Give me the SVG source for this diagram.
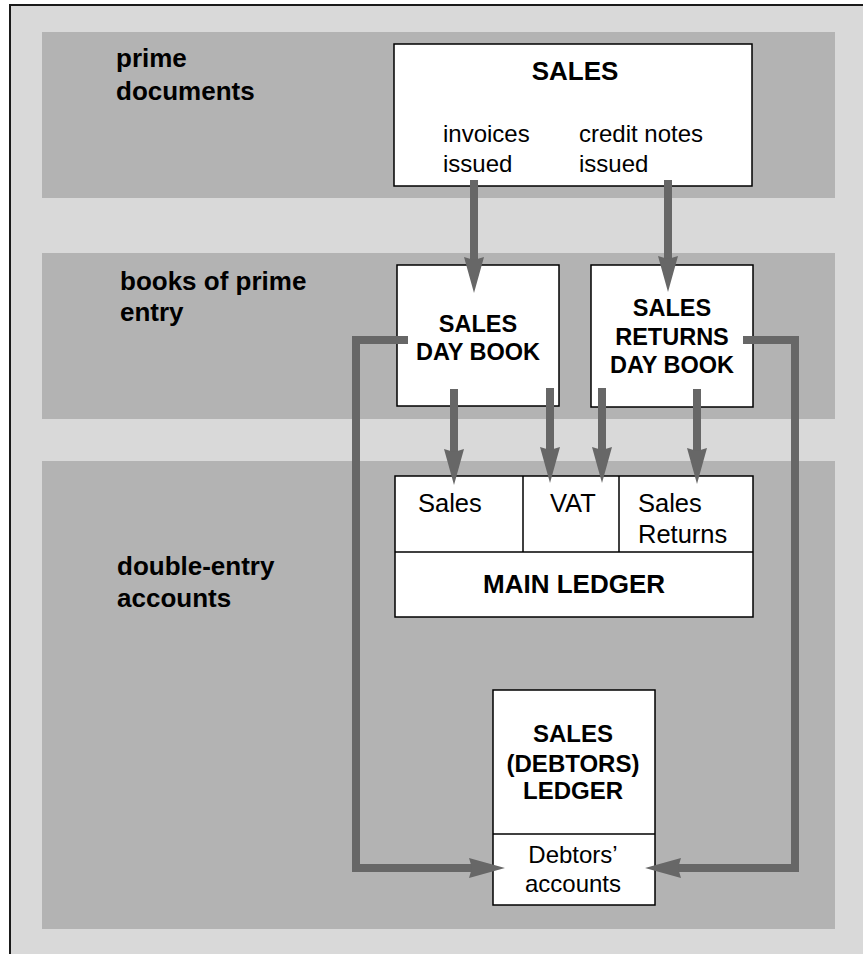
<svg xmlns="http://www.w3.org/2000/svg" width="863" height="954" viewBox="0 0 863 954">
  <style>
    .band { fill: #b3b3b3; }
    .box { fill: #ffffff; stroke: #000000; stroke-width: 1.5; }
    .div { stroke: #000000; stroke-width: 1.5; fill: none; }
    text { font-family: "Liberation Sans", Arial, sans-serif; fill: #000000; }
    .lbl { font-size: 26px; font-weight: bold; }
    .title { font-size: 24px; font-weight: bold; text-anchor: middle; }
    .txt { font-size: 24px; }
    .conn { fill: none; stroke: #676767; stroke-width: 8; stroke-linejoin: miter; marker-end: url(#head); }
  </style>
  <defs>
    <marker id="head" markerUnits="userSpaceOnUse" markerWidth="40" markerHeight="24" viewBox="0 -12 40 24" refX="16" refY="0" orient="auto">
      <path d="M36,0 L0,-10 L3,0 L0,10 Z" fill="#676767"/>
    </marker>
  </defs>

  <!-- page background and frame -->
  <rect x="0" y="0" width="863" height="954" fill="#ffffff"/>
  <rect x="10" y="5" width="870" height="960" fill="#d9d9d9" stroke="#1a1a1a" stroke-width="2"/>

  <!-- horizontal bands -->
  <rect class="band" x="42" y="32" width="793" height="166"/>
  <rect class="band" x="42" y="253" width="793" height="166"/>
  <rect class="band" x="42" y="461" width="793" height="468"/>

  <!-- band labels -->
  <g id="labels">
    <text class="lbl" x="116" y="67">prime</text>
    <text class="lbl" x="116" y="100">documents</text>
    <text class="lbl" x="120" y="290">books of prime</text>
    <text class="lbl" x="120" y="321">entry</text>
    <text class="lbl" x="117" y="575">double-entry</text>
    <text class="lbl" x="117" y="607">accounts</text>
  </g>

  <g id="sales">
    <rect class="box" x="394" y="44" width="358" height="142"/>
    <text class="title" x="575" y="80" style="font-size:26px">SALES</text>
    <text class="txt" x="443" y="142">invoices</text>
    <text class="txt" x="443" y="172">issued</text>
    <text class="txt" x="579" y="142">credit notes</text>
    <text class="txt" x="579" y="172">issued</text>
  </g>

  <g id="sales-day-book">
    <rect class="box" x="397" y="265" width="162" height="141"/>
    <text class="title" x="478" y="332" style="font-size:23.5px">SALES</text>
    <text class="title" x="478" y="360" style="font-size:23.5px">DAY BOOK</text>
  </g>

  <g id="sales-returns-day-book">
    <rect class="box" x="591" y="265" width="162" height="142"/>
    <text class="title" x="672" y="316" style="font-size:23.5px">SALES</text>
    <text class="title" x="672" y="345" style="font-size:23.5px">RETURNS</text>
    <text class="title" x="672" y="373" style="font-size:23.5px">DAY BOOK</text>
  </g>

  <g id="main-ledger">
    <rect class="box" x="395" y="476" width="358" height="141"/>
    <line class="div" x1="395" y1="552" x2="753" y2="552"/>
    <line class="div" x1="523" y1="476" x2="523" y2="552"/>
    <line class="div" x1="619" y1="476" x2="619" y2="552"/>
    <text class="txt" x="418" y="512" style="font-size:25.5px">Sales</text>
    <text class="txt" x="550" y="512" style="font-size:25.5px">VAT</text>
    <text class="txt" x="638" y="512" style="font-size:25.5px">Sales</text>
    <text class="txt" x="638" y="543" style="font-size:25.5px">Returns</text>
    <text class="title" x="574" y="593" style="font-size:26px">MAIN LEDGER</text>
  </g>

  <g id="debtors-ledger">
    <rect class="box" x="493" y="690" width="162" height="215"/>
    <line class="div" x1="493" y1="834" x2="655" y2="834"/>
    <text class="title" x="573" y="742">SALES</text>
    <text class="title" x="573" y="772">(DEBTORS)</text>
    <text class="title" x="573" y="799">LEDGER</text>
    <text class="txt" x="573" y="863" text-anchor="middle">Debtors’</text>
    <text class="txt" x="573" y="892" text-anchor="middle">accounts</text>
  </g>

  <!-- connectors -->
  <g id="connectors">
    <path class="conn" d="M474,180 V273"/>
    <path class="conn" d="M668,180 V272"/>
    <path class="conn" d="M454,389 V465"/>
    <path class="conn" d="M550,388 V463"/>
    <path class="conn" d="M602,388 V463"/>
    <path class="conn" d="M697,389 V464"/>
    <path class="conn" d="M408,340 H356 V868 H485"/>
    <path class="conn" d="M743,340 H795 V868 H665"/>
  </g>
</svg>
